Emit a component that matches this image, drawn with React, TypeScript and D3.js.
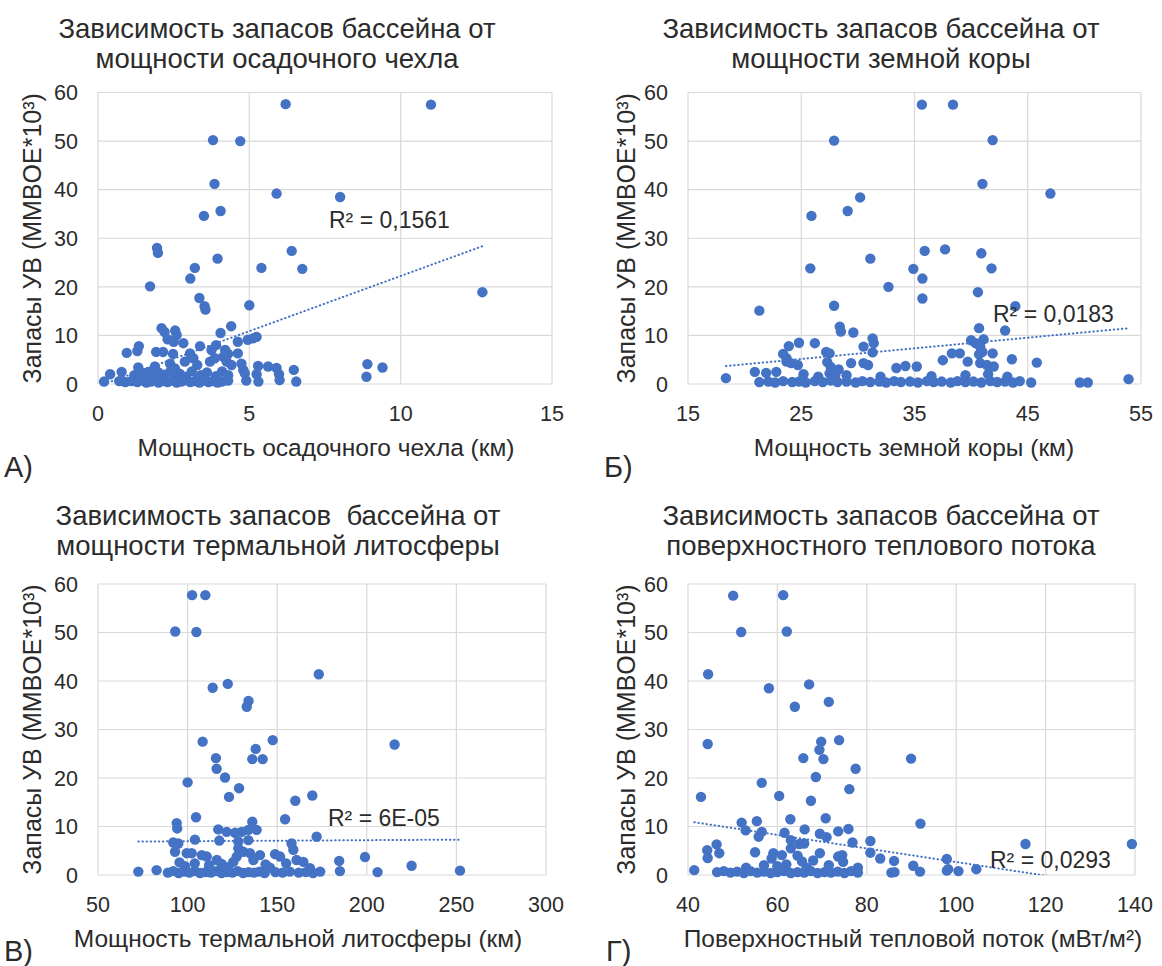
import React from 'react';
import * as d3 from 'd3';

// reserves axis, shared by all four panels (MMBOE*10^3)
const reservesTicks = [0, 10, 20, 30, 40, 50, 60];

// A) sediment cover thickness, km -> reserves
const sedimentTicks = [0, 5, 10, 15];
const sedimentPoints: [number, number][] = [
  [6.2, 57.6], [11.0, 57.5], [3.8, 50.2], [4.7, 50.0], [3.85, 41.2], [5.9, 39.2], [8.0, 38.5], [4.05, 35.6],
  [3.5, 34.6], [1.95, 28.0], [1.98, 27.0], [6.4, 27.4], [3.95, 25.8], [3.2, 23.9], [5.4, 23.9], [6.75, 23.7],
  [3.05, 21.7], [1.72, 20.1], [12.7, 18.9], [3.35, 17.7], [3.52, 16.0], [3.55, 15.3], [5.0, 16.2],
  [2.1, 11.5], [2.2, 10.7], [2.55, 11.0], [2.6, 10.1], [4.4, 11.9], [4.05, 10.5], [2.3, 9.2], [2.5, 8.7],
  [2.82, 8.4], [4.62, 8.7], [4.95, 9.1], [5.12, 9.4], [5.24, 9.7], [3.37, 7.8], [3.9, 8.0], [1.35, 7.8],
  [1.3, 6.8], [0.95, 6.4], [1.92, 6.6], [2.15, 6.6], [2.48, 6.2], [3.04, 6.3], [3.75, 7.0], [4.2, 7.0],
  [4.3, 6.2], [4.62, 6.3], [8.9, 4.1], [9.4, 3.4], [8.87, 1.5],
  [1.33, 3.4], [2.87, 4.6], [3.15, 5.3], [3.28, 3.9], [3.7, 4.6], [3.86, 5.3], [4.14, 5.6], [4.25, 4.6],
  [4.41, 3.9], [4.74, 4.2], [4.8, 2.9], [5.29, 3.7], [5.62, 3.6], [5.9, 3.3], [6.47, 2.9], [2.38, 4.2],
  [2.54, 3.2], [1.88, 3.6], [1.66, 2.5], [0.4, 2.0], [0.78, 2.5], [5.24, 2.0], [5.98, 2.0], [4.85, 2.2],
  [1.2, 1.8], [1.5, 2.2], [1.8, 1.6], [2.0, 2.4], [2.2, 1.9], [2.4, 2.7], [2.7, 2.1], [2.9, 1.5],
  [3.1, 2.6], [3.4, 1.8], [3.6, 2.4], [3.9, 1.6], [4.1, 2.6], [4.3, 1.8], [1.4, 1.2], [2.6, 1.2], [3.3, 1.1],
  [0.2, 0.5], [0.7, 0.6], [0.9, 0.4], [1.1, 0.6], [1.3, 0.4], [1.5, 0.7], [1.6, 0.3], [1.75, 0.5],
  [1.9, 0.8], [2.0, 0.3], [2.15, 0.6], [2.3, 0.4], [2.45, 0.7], [2.6, 0.3], [2.75, 0.5], [2.9, 0.8],
  [3.05, 0.4], [3.2, 0.6], [3.35, 0.3], [3.5, 0.7], [3.65, 0.4], [3.8, 0.6], [3.95, 0.3], [4.1, 0.5],
  [4.3, 0.7], [4.9, 0.7], [5.3, 0.5], [6.0, 0.8], [6.55, 0.5],
];

// Б) crust thickness, km -> reserves
const crustTicks = [15, 25, 35, 45, 55];
const crustPoints: [number, number][] = [
  [35.65, 57.5], [38.4, 57.5], [27.9, 50.1], [41.9, 50.2], [41.0, 41.2], [47.0, 39.2], [30.2, 38.4], [29.1, 35.6],
  [25.9, 34.6], [35.9, 27.4], [37.7, 27.7], [40.9, 26.9], [31.1, 25.8], [25.8, 23.8], [34.9, 23.7], [41.8, 23.8],
  [35.7, 21.7], [32.7, 20.0], [40.6, 18.9], [35.7, 17.6], [21.3, 15.1], [27.9, 16.1], [43.9, 16.0],
  [28.4, 11.8], [28.5, 10.8], [29.6, 10.6], [40.7, 11.5], [43.0, 11.0], [23.9, 7.8], [24.8, 8.5], [26.2, 8.4],
  [30.5, 7.7], [31.3, 9.4], [31.4, 8.4], [31.3, 6.5], [40.0, 9.0], [40.4, 8.4], [41.1, 9.2], [40.8, 7.7],
  [41.0, 6.6], [40.7, 6.1], [41.9, 6.3], [38.3, 6.3], [39.0, 6.3], [23.4, 6.2], [23.7, 5.3], [27.2, 6.6], [27.5, 6.3],
  [18.35, 1.2], [20.9, 2.5], [21.9, 2.3], [22.8, 2.5], [23.7, 4.6], [24.1, 4.3], [24.7, 3.9], [29.4, 4.3],
  [30.5, 4.3], [30.9, 3.9], [33.4, 3.3], [34.2, 3.7], [35.2, 3.6], [37.5, 4.9], [39.7, 4.6], [40.8, 4.3],
  [41.4, 3.9], [42.0, 3.6], [43.6, 5.1], [45.8, 4.4], [27.3, 4.5], [27.6, 3.5], [27.8, 2.6], [28.0, 1.8],
  [27.5, 2.2], [28.3, 3.0], [26.5, 1.5], [25.2, 2.0], [29.0, 1.8], [32.0, 1.5], [36.5, 1.6], [39.5, 1.8],
  [41.5, 2.0], [43.2, 1.5],
  [21.3, 0.4], [22.1, 0.5], [22.7, 0.3], [23.4, 0.6], [24.2, 0.4], [24.8, 0.5], [25.4, 0.3], [26.2, 0.6],
  [26.9, 0.4], [27.6, 0.7], [28.2, 0.4], [29.0, 0.5], [29.8, 0.3], [30.4, 0.6], [31.1, 0.4], [31.9, 0.5],
  [32.5, 0.3], [33.2, 0.6], [33.8, 0.4], [34.6, 0.5], [35.3, 0.3], [36.1, 0.6], [36.7, 0.4], [37.4, 0.5],
  [38.2, 0.3], [38.8, 0.6], [39.5, 0.4], [40.2, 0.5], [40.9, 0.3], [41.7, 0.6], [42.3, 0.4], [43.0, 0.5],
  [43.7, 0.3], [44.3, 0.6], [45.3, 0.3], [49.6, 0.3], [50.3, 0.3], [53.9, 1.0],
];

// В) thermal lithosphere thickness, km -> reserves
const lithosphereTicks = [50, 100, 150, 200, 250, 300];
const lithospherePoints: [number, number][] = [
  [102.5, 57.7], [109.9, 57.7], [93.1, 50.2], [104.9, 50.1], [173.2, 41.4], [114.0, 38.6], [122.4, 39.4], [134.0, 35.9],
  [133.0, 34.7], [108.4, 27.5], [147.5, 27.8], [215.5, 26.9], [138.0, 26.0], [136.1, 23.9], [141.9, 23.9], [115.8, 24.1],
  [116.2, 21.9], [120.9, 20.1], [100.0, 19.1], [128.7, 17.9], [123.1, 16.1], [160.1, 15.3], [169.6, 16.4],
  [93.9, 10.7], [94.2, 9.6], [104.7, 11.9], [136.1, 11.0], [154.4, 11.5], [117.1, 9.4], [121.8, 8.9], [126.5, 8.7],
  [130.2, 8.9], [133.9, 9.3], [138.5, 9.3], [92.0, 6.7], [94.8, 6.5], [104.1, 7.3], [117.7, 7.1], [128.3, 6.9],
  [133.9, 7.2], [158.0, 6.5], [172.0, 7.9],
  [93.0, 4.8], [99.5, 4.5], [102.3, 4.5], [107.9, 4.1], [110.7, 3.8], [116.3, 3.1], [128.3, 5.5], [131.1, 4.8],
  [127.4, 3.8], [125.5, 2.7], [134.8, 4.5], [140.4, 4.1], [136.7, 3.1], [148.8, 4.3], [151.6, 3.8], [159.0, 5.2],
  [160.8, 3.1], [164.6, 2.7], [168.3, 1.4], [184.6, 2.9], [185.0, 0.8], [199.0, 3.7], [206.0, 0.6], [225.0, 1.9],
  [252.0, 0.9], [95.5, 2.6], [98.5, 1.8], [104.0, 2.4], [112.0, 2.0], [119.0, 2.3], [122.5, 1.6], [143.5, 2.2],
  [146.0, 1.5], [155.0, 2.4],
  [72.5, 0.7], [82.7, 1.0], [89.0, 0.5], [92.0, 0.8], [95.0, 0.4], [98.0, 0.7], [101.0, 0.5], [104.0, 0.8],
  [107.0, 0.4], [110.0, 0.6], [113.0, 0.5], [116.0, 0.8], [119.0, 0.4], [122.0, 0.6], [125.0, 0.5], [128.0, 0.8],
  [131.0, 0.4], [134.0, 0.6], [137.0, 0.5], [140.0, 0.7], [143.0, 0.4], [149.0, 0.6], [153.0, 0.5], [157.0, 0.7],
  [162.0, 0.5], [166.0, 0.6], [170.0, 0.4], [174.0, 0.7],
];

// Г) surface heat flow, mW/m2 -> reserves
const heatFlowTicks = [40, 60, 80, 100, 120, 140];
const heatFlowPoints: [number, number][] = [
  [50.1, 57.6], [61.3, 57.7], [51.9, 50.1], [62.1, 50.2], [44.5, 41.4], [58.1, 38.5], [67.1, 39.3], [63.9, 34.7],
  [71.5, 35.7], [44.4, 27.0], [69.8, 27.5], [69.4, 25.8], [73.8, 27.8], [65.8, 24.1], [70.3, 23.9], [89.9, 24.0],
  [77.5, 21.9], [68.6, 20.2], [56.5, 19.0], [42.9, 16.1], [60.4, 16.3], [67.5, 15.3], [76.1, 17.7],
  [62.9, 11.5], [70.8, 11.7], [52.0, 10.8], [52.9, 9.2], [55.4, 11.1], [56.5, 8.9], [55.8, 7.9], [61.6, 8.7],
  [66.1, 9.4], [73.6, 9.0], [75.9, 9.5], [69.5, 8.5], [71.0, 7.8], [92.0, 10.6], [63.0, 7.2], [64.9, 6.4],
  [66.0, 6.5], [76.8, 6.7], [80.8, 7.0], [115.5, 6.4], [139.3, 6.4],
  [80.8, 4.6], [44.3, 5.1], [44.4, 3.5], [46.4, 6.3], [47.0, 4.5], [55.0, 4.7], [59.1, 4.5], [58.7, 3.4],
  [61.0, 4.1], [83.0, 3.4], [69.5, 4.5], [73.6, 3.8], [74.5, 4.1], [74.7, 2.7], [86.1, 2.9], [90.4, 1.9],
  [97.9, 3.3], [98.2, 1.2], [104.5, 1.2], [63.0, 5.5], [64.5, 4.0], [65.5, 2.8], [62.0, 2.2], [60.0, 1.8],
  [66.5, 1.5], [68.0, 3.0], [57.0, 2.0], [71.5, 2.0], [78.0, 1.5], [53.0, 1.5],
  [41.4, 1.0], [46.5, 0.6], [48.0, 0.8], [49.5, 0.5], [51.0, 0.7], [52.5, 0.4], [54.0, 0.8], [55.5, 0.5],
  [57.0, 0.7], [58.5, 0.4], [60.0, 0.6], [61.5, 0.8], [63.0, 0.4], [64.5, 0.6], [66.0, 0.5], [67.5, 0.8],
  [69.0, 0.4], [70.5, 0.6], [72.0, 0.5], [73.5, 0.7], [75.0, 0.4], [76.5, 0.8], [78.0, 0.5], [85.5, 0.5],
  [86.2, 0.6], [91.9, 0.7], [97.9, 0.9], [100.5, 0.8],
];

// linear trend lines as Excel reports them (slope, intercept)
const trendSlopes = [2.27, 0.219, 0.0022, -0.14];
const trendIntercepts = [-0.47, -0.32, 6.74, 16.67];
const rSquaredLabels = ['R² = 0,1561', 'R² = 0,0183', 'R² = 6E-05', 'R² = 0,0293'];

const titleLines = [
  ['Зависимость запасов бассейна от', 'мощности осадочного чехла'],
  ['Зависимость запасов бассейна от', 'мощности земной коры'],
  ['Зависимость запасов  бассейна от', 'мощности термальной литосферы'],
  ['Зависимость запасов бассейна от', 'поверхностного теплового потока'],
];
const xTitles = [
  'Мощность осадочного чехла (км)',
  'Мощность земной коры (км)',
  'Мощность термальной литосферы (км)',
  'Поверхностный тепловой поток (мВт/м²)',
];
const panelLetters = ['А)', 'Б)', 'В)', 'Г)'];
const yTitle = 'Запасы УВ (MMBOE*10³)';

const BLUE = '#4472C4';
const GRID = '#d9d9d9';
const INK = '#2b2b2b';
const FONT = '"Liberation Sans", Arial, sans-serif';

// pixel layout of each panel
const layout = [
  { left: 98, right: 552, top: 92.5, bottom: 384, titleX: 277, titleY: 38, yTitleX: 32, letterX: 4, letterY: 477, r2X: 329, r2Y: 228, xTitleX: 326 },
  { left: 688, right: 1141, top: 92.5, bottom: 384, titleX: 881, titleY: 38, yTitleX: 626, letterX: 604, letterY: 477, r2X: 993, r2Y: 322, xTitleX: 914 },
  { left: 98, right: 546, top: 584, bottom: 875, titleX: 278, titleY: 525, yTitleX: 32, letterX: 4, letterY: 961, r2X: 328, r2Y: 826, xTitleX: 298 },
  { left: 688, right: 1135, top: 584, bottom: 875, titleX: 881, titleY: 525, yTitleX: 626, letterX: 606, letterY: 961, r2X: 990, r2Y: 868, xTitleX: 913 },
];

const panelData = [
  { ticks: sedimentTicks, points: sedimentPoints },
  { ticks: crustTicks, points: crustPoints },
  { ticks: lithosphereTicks, points: lithospherePoints },
  { ticks: heatFlowTicks, points: heatFlowPoints },
];

function Panel({ index }: { index: number }) {
  const L = layout[index];
  const { ticks, points } = panelData[index];
  const x = d3.scaleLinear().domain([ticks[0], ticks[ticks.length - 1]]).range([L.left, L.right]);
  const y = d3.scaleLinear().domain([0, 60]).range([L.bottom, L.top]);

  const [xMin, xMax] = d3.extent(points, (d) => d[0]) as [number, number];
  const slope = trendSlopes[index];
  const intercept = trendIntercepts[index];
  const trendPath = d3.line<number>()
    .x((v) => x(v))
    .y((v) => y(slope * v + intercept))([xMin, xMax]);
  const clipId = `plot-clip-${index}`;
  const midY = (L.top + L.bottom) / 2;

  return (
    <g>
      <defs>
        <clipPath id={clipId}>
          <rect x={L.left} y={L.top} width={L.right - L.left} height={L.bottom - L.top} />
        </clipPath>
      </defs>

      {/* title */}
      <text x={L.titleX} y={L.titleY} textAnchor="middle" fontSize={27.5} fill={INK} style={{ whiteSpace: 'pre' }}>
        {titleLines[index][0]}
      </text>
      <text x={L.titleX} y={L.titleY + 30} textAnchor="middle" fontSize={27.5} fill={INK}>
        {titleLines[index][1]}
      </text>

      {/* grid */}
      {reservesTicks.map((t) => (
        <line key={'h' + t} x1={L.left} x2={L.right} y1={y(t)} y2={y(t)} stroke={GRID} strokeWidth={1.2} />
      ))}
      {ticks.map((t) => (
        <line key={'v' + t} x1={x(t)} x2={x(t)} y1={L.top} y2={L.bottom} stroke={GRID} strokeWidth={1.2} />
      ))}

      {/* tick labels */}
      {reservesTicks.map((t) => (
        <text key={'yl' + t} x={L.left - 20} y={y(t)} dy="0.36em" textAnchor="end" fontSize={21.5} fill={INK}>
          {t}
        </text>
      ))}
      {ticks.map((t) => (
        <text key={'xl' + t} x={x(t)} y={L.bottom + 37} textAnchor="middle" fontSize={21.5} fill={INK}>
          {t}
        </text>
      ))}

      {/* axis titles */}
      <text
        transform={`translate(${L.yTitleX},${midY}) rotate(-90)`}
        textAnchor="middle"
        dy="0.36em"
        fontSize={25}
        fill={INK}
      >
        {yTitle}
      </text>
      <text x={L.xTitleX} y={L.bottom + 72} textAnchor="middle" fontSize={24.5} fill={INK}>
        {xTitles[index]}
      </text>

      {/* points */}
      {points.map((d, i) => (
        <circle key={i} cx={x(d[0])} cy={y(d[1])} r={5.2} fill={BLUE} />
      ))}

      {/* trend */}
      <path
        d={trendPath ?? ''}
        clipPath={`url(#${clipId})`}
        fill="none"
        stroke={BLUE}
        strokeWidth={2}
        strokeLinecap="round"
        strokeDasharray="0.5 3.6"
      />
      <text x={L.r2X} y={L.r2Y} fontSize={23} fill={INK}>
        {rSquaredLabels[index]}
      </text>

      {/* panel letter */}
      <text x={L.letterX} y={L.letterY} fontSize={29} fill={INK}>
        {panelLetters[index]}
      </text>
    </g>
  );
}

export default function App() {
  return (
    <svg
      width={1162}
      height={966}
      style={{ position: 'absolute', left: 0, top: 0, background: '#fff' }}
      fontFamily={FONT}
    >
      <rect width={1162} height={966} fill="#fff" />
      {[0, 1, 2, 3].map((i) => (
        <Panel key={i} index={i} />
      ))}
    </svg>
  );
}
